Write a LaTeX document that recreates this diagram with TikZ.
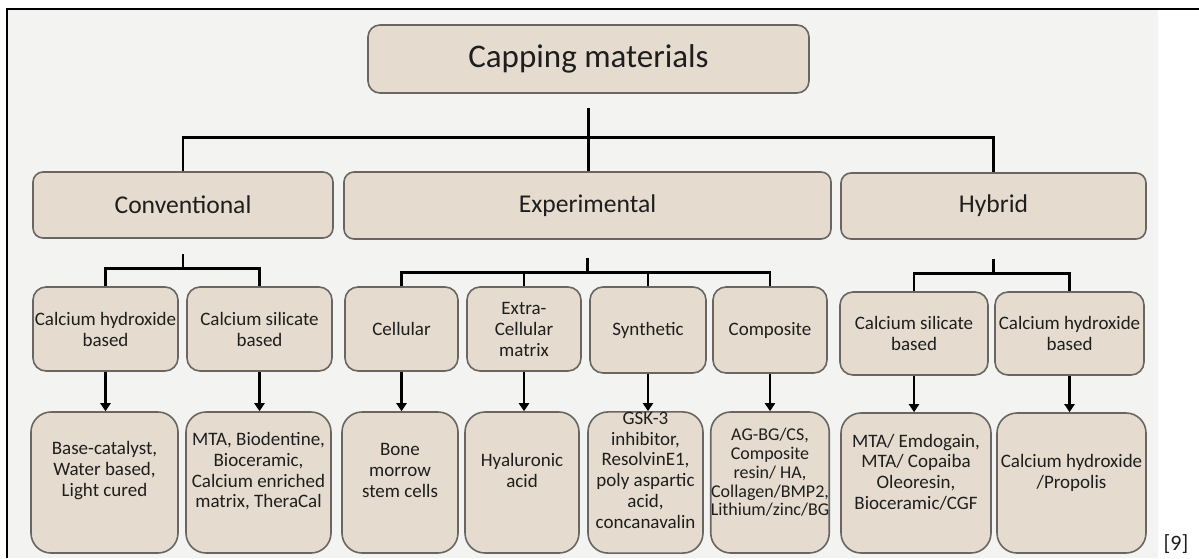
\documentclass[tikz,border=0pt]{standalone}
\usepackage{fontspec}
\setmainfont{Carlito}
\usetikzlibrary{arrows.meta,calc}
\definecolor{bgc}{RGB}{243,243,242}
\definecolor{boxfill}{RGB}{229,220,207}
\definecolor{boxline}{RGB}{105,102,98}
\definecolor{txt}{RGB}{30,30,30}
\begin{document}
\begin{tikzpicture}[x=1pt,y=-1pt,
  box/.style={draw=boxline, line width=1.6pt, fill=boxfill, text=txt, align=center, inner sep=0pt, rounded corners=#1},
  box/.default=10pt,
  conn/.style={draw=black, line width=2.8pt},
  arr/.style={draw=black, line width=2.8pt, -{Triangle[width=10pt,length=8pt]}},
  fA/.style={font=\fontsize{33}{36}\selectfont},
  fB/.style={font=\fontsize{25.6}{28}\selectfont},
  fC/.style={font=\fontsize{19}{21}\selectfont},
  fD/.style={font=\fontsize{19}{20.8}\selectfont},
  fE/.style={font=\fontsize{18}{18.8}\selectfont}]
\useasboundingbox (0,0) rectangle (1199,558);
\fill[bgc] (7,9) rectangle (1158,558);
\draw[line width=2pt] (7,558) -- (7,9) -- (1199,9);

% level 1
\node[box=12pt, fA, minimum width=441pt, minimum height=68pt] (top) at (588.5,59) {Capping materials};

% level 2
\node[box, fB, minimum width=300pt, minimum height=66pt] (conv) at (183,205) {Conventional};
\node[box, fB, minimum width=487pt, minimum height=67pt] (exp) at (587.5,205.5) {Experimental};
\node[box, fB, minimum width=305pt, minimum height=66pt] (hyb) at (993.5,206) {Hybrid};

% level 3
\node[box=13pt, fC, minimum width=145pt, minimum height=84pt] (c1) at (105.5,329) {Calcium hydroxide\\based};
\node[box=13pt, fC, minimum width=145pt, minimum height=84pt] (c2) at (259.5,329) {Calcium silicate\\based};
\node[box=13pt, fC, minimum width=113pt, minimum height=84pt] (e1) at (401.5,329) {Cellular};
\node[box=13pt, fC, minimum width=114pt, minimum height=84pt] (e2) at (524,329) {Extra-\\Cellular\\matrix};
\node[box=13pt, fC, minimum width=116pt, minimum height=86pt] (e3) at (648,330) {Synthetic};
\node[box=13pt, fC, minimum width=114pt, minimum height=86pt] (e4) at (770,330) {Composite};
\node[box=13pt, fC, minimum width=148pt, minimum height=83pt] (h1) at (914,333.5) {Calcium silicate\\based};
\node[box=13pt, fC, minimum width=149pt, minimum height=83pt] (h2) at (1069.5,333.5) {Calcium hydroxide\\based};

% level 4
\node[box=20pt, fD, minimum width=147pt, minimum height=141pt] (d1) at (104.5,482.5) {Base-catalyst,\\Water based,\\Light cured\\[6pt]};
\node[box=20pt, fD, minimum width=145pt, minimum height=141pt] (d2) at (258.5,482.5) {MTA, Biodentine,\\Bioceramic,\\Calcium enriched\\matrix, TheraCal\\[4pt]};
\node[box=20pt, fD, minimum width=116pt, minimum height=141pt] (d3) at (400,482.5) {Bone\\morrow\\stem cells\\[4pt]};
\node[box=20pt, fD, minimum width=114pt, minimum height=141pt] (d4) at (522,482.5) {Hyaluronic\\acid\\[4pt]};
\node[box=20pt, fD, minimum width=115pt, minimum height=141pt] (d5) at (645.5,482.5) {GSK-3\\inhibitor,\\ResolvinE1,\\poly aspartic\\acid,\\concanavalin\\[4pt]};
\node[box=20pt, fE, minimum width=118pt, minimum height=141pt] (d6) at (770,482.5) {AG-BG/CS,\\Composite\\resin/ HA,\\Collagen/BMP2,\\Lithium/zinc/BG\\[2pt]};
\node[box=20pt, fD, minimum width=150pt, minimum height=140pt] (d7) at (916,483) {MTA/ Emdogain,\\MTA/ Copaiba\\Oleoresin,\\Bioceramic/CGF\\[2pt]};
\node[box=20pt, fD, minimum width=149pt, minimum height=140pt] (d8) at (1071.5,483) {Calcium hydroxide\\/Propolis\\[2pt]};

% reference
\node[text=txt, font=\fontsize{22}{24}\selectfont, anchor=base, inner sep=0pt] (ref) at (1176,550) {[9]};

% level 1 -> 2
\coordinate (tstub) at ($(top.south)+(0,14)$);
\draw[conn] (tstub) -- (tstub |- exp.north);
\draw[conn] (conv.north) -- ++(0,-34) -| (hyb.north);

% level 2 -> 3
\coordinate (cj) at ($(conv.south)+(0,30)$);
\draw[conn] ($(conv.south)+(0,15)$) -- (cj);
\draw[conn] (c1.north) -- (c1.north |- cj) -- (c2.north |- cj) -- (c2.north);

\coordinate (ej) at ($(exp.south)+(0,33)$);
\draw[conn] ($(exp.south)+(0,18)$) -- (ej);
\draw[conn] (e1.north) -- (e1.north |- ej) -- (e4.north |- ej) -- (e4.north);
\draw[conn] (e2.north) -- (e2.north |- ej);
\draw[conn] (e3.north) -- (e3.north |- ej);

\coordinate (hj) at ($(hyb.south)+(0,34)$);
\draw[conn] ($(hyb.south)+(0,19)$) -- (hj);
\draw[conn] (h1.north) -- (h1.north |- hj) -- (h2.north |- hj) -- (h2.north);

% level 3 -> 4
\draw[arr] (c1.south) -- (c1.south |- d1.north);
\draw[arr] (c2.south) -- (c2.south |- d2.north);
\draw[arr] (e1.south) -- (e1.south |- d3.north);
\draw[arr] (e2.south) -- (e2.south |- d4.north);
\draw[arr] (e3.south) -- (e3.south |- d5.north);
\draw[arr] (e4.south) -- (e4.south |- d6.north);
\draw[arr] (h1.south) -- (h1.south |- d7.north);
\draw[arr] (h2.south) -- (h2.south |- d8.north);
\end{tikzpicture}
\end{document}
